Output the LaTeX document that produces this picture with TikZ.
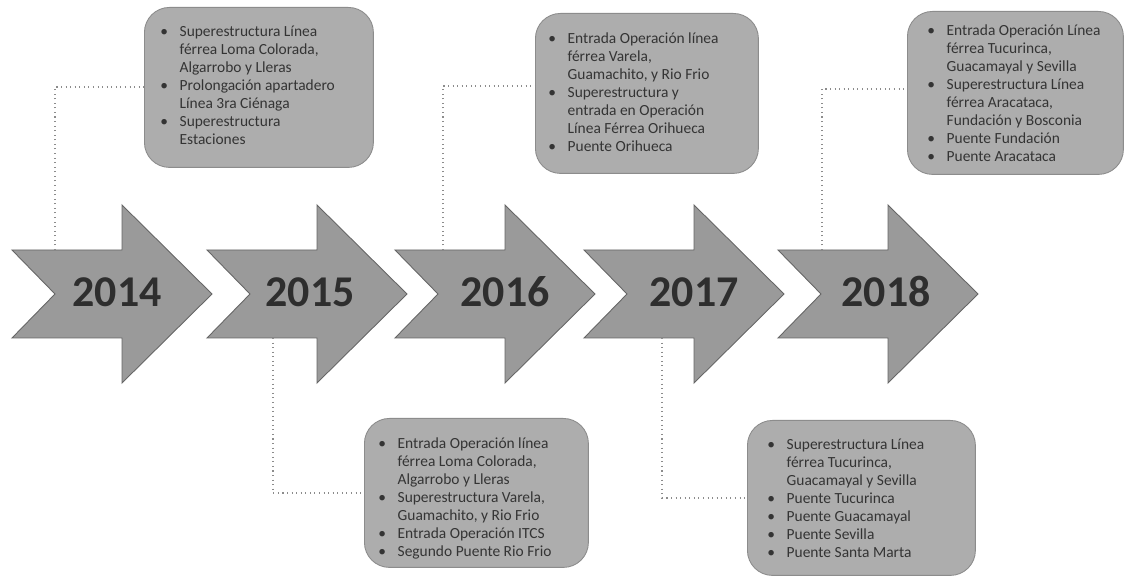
\documentclass[tikz,border=0pt]{standalone}
\usepackage{fontspec}
\setmainfont{Carlito}
\definecolor{arrowgray}{HTML}{9A9A9A}
\definecolor{boxgray}{HTML}{ADADAD}
\definecolor{txt}{HTML}{343434}
\definecolor{conn}{HTML}{8C8C8C}
\newcommand{\bl}{\textbullet}
\begin{document}
\begin{tikzpicture}[x=0.02cm,y=-0.02cm,
  arrowshape/.style={fill=arrowgray, draw=black!60, line width=0.5pt, line join=miter},
  year/.style={font=\fontsize{25pt}{25pt}\selectfont\bfseries, text=black!82, inner sep=0},
  infobox/.style={fill=boxgray, draw=black!45, line width=0.5pt, rounded corners=0.5cm, anchor=north west, inner sep=0},
  infotext/.style={font=\fontsize{8.8pt}{10.2pt}\selectfont, text=txt, anchor=north west, inner sep=0},
  link/.style={draw=conn, dotted, line width=0.6pt}]
\useasboundingbox (0,0) rectangle (1126,577);
\fill[white] (0,0) rectangle (1126,577);

% arrows
\foreach \T/\yr/\cx [count=\i] in {212/2014/117, 407/2015/310, 595/2016/505, 784/2017/694, 978/2018/886}{
  \pgfmathsetmacro{\L}{\T-200}
  \pgfmathsetmacro{\N}{\T-157}
  \pgfmathsetmacro{\H}{\T-90}
  \draw[arrowshape] (\L,250) -- (\H,250) -- (\H,205) -- (\T,294) -- (\H,383) -- (\H,338) -- (\L,338) -- (\N,294) -- cycle;
  \node[year] (y\i) at (\cx,292) {\yr};
}

% info boxes
\node[infobox, minimum width=4.58cm, minimum height=3.2cm] (b1) at (144,7) {};
\node[infobox, minimum width=4.46cm, minimum height=3.2cm] (b2) at (535,13) {};
\node[infobox, minimum width=4.32cm, minimum height=3.26cm] (b3) at (907,11) {};
\node[infobox, minimum width=4.48cm, minimum height=2.98cm] (b4) at (364,418) {};
\node[infobox, minimum width=4.56cm, minimum height=3.1cm] (b5) at (747,420) {};

\node[infotext] (t1) at (160,24) {\begin{tabular}{@{}p{11pt}@{}l@{}}
\bl & Superestructura Línea\\
 & férrea Loma Colorada,\\
 & Algarrobo y Lleras\\
\bl & Prolongación apartadero\\
 & Línea 3ra Ciénaga\\
\bl & Superestructura\\
 & Estaciones
\end{tabular}};

\node[infotext] (t2) at (548,31) {\begin{tabular}{@{}p{11pt}@{}l@{}}
\bl & Entrada Operación línea\\
 & férrea Varela,\\
 & Guamachito, y Rio Frio\\
\bl & Superestructura y\\
 & entrada en Operación\\
 & Línea Férrea Orihueca\\
\bl & Puente Orihueca
\end{tabular}};

\node[infotext] (t3) at (927,23) {\begin{tabular}{@{}p{11pt}@{}l@{}}
\bl & Entrada Operación Línea\\
 & férrea Tucurinca,\\
 & Guacamayal y Sevilla\\
\bl & Superestructura Línea\\
 & férrea Aracataca,\\
 & Fundación y Bosconia\\
\bl & Puente Fundación\\
\bl & Puente Aracataca
\end{tabular}};

\node[infotext] (t4) at (378,436) {\begin{tabular}{@{}p{11pt}@{}l@{}}
\bl & Entrada Operación línea\\
 & férrea Loma Colorada,\\
 & Algarrobo y Lleras\\
\bl & Superestructura Varela,\\
 & Guamachito, y Rio Frio\\
\bl & Entrada Operación ITCS\\
\bl & Segundo Puente Rio Frio
\end{tabular}};

\node[infotext] (t5) at (767,437) {\begin{tabular}{@{}p{11pt}@{}l@{}}
\bl & Superestructura Línea\\
 & férrea Tucurinca,\\
 & Guacamayal y Sevilla\\
\bl & Puente Tucurinca\\
\bl & Puente Guacamayal\\
\bl & Puente Sevilla\\
\bl & Puente Santa Marta
\end{tabular}};

% connector anchor points
\coordinate (s1) at (55,250);
\coordinate (s2) at (273,338);
\coordinate (s3) at (443,250);
\coordinate (s4) at (662,338);
\coordinate (s5) at (822,250);
\coordinate (h1) at (0,87);
\coordinate (h2) at (0,493);
\coordinate (h3) at (0,86);
\coordinate (h4) at (0,498);
\coordinate (h5) at (0,89);

\draw[link] (s1) |- (b1.west |- h1);
\draw[link] (s2) |- (b4.west |- h2);
\draw[link] (s3) |- (b2.west |- h3);
\draw[link] (s4) |- (b5.west |- h4);
\draw[link] (s5) |- (b3.west |- h5);
\end{tikzpicture}
\end{document}
